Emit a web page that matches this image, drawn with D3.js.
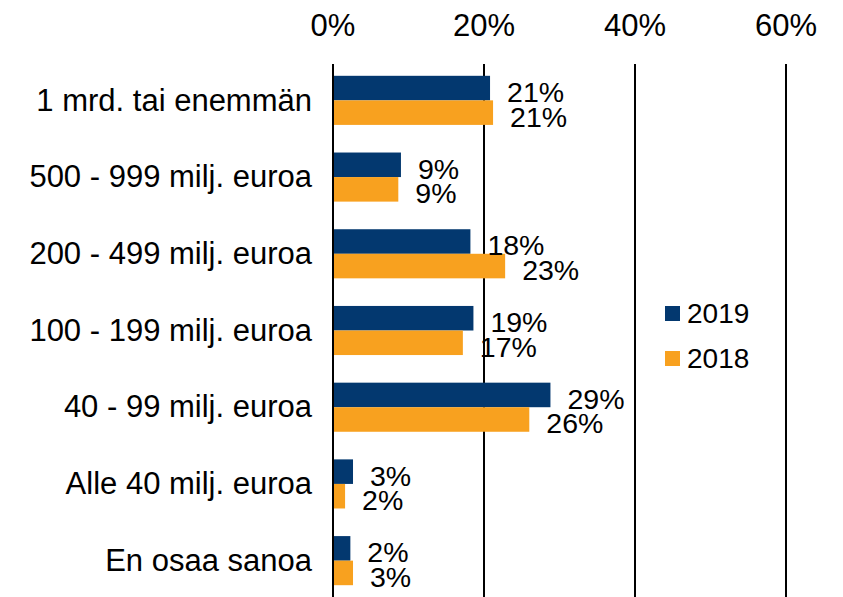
<!DOCTYPE html>
<html>
<head>
<meta charset="utf-8">
<script src="https://cdn.jsdelivr.net/npm/d3@7"></script>
<style>
  body { margin: 0; background: #fff; }
  text { font-family: "Liberation Sans", Arial, sans-serif; fill: #000; }
</style>
</head>
<body>
<div id="chart"></div>
<script>
var categories = ["1 mrd. tai enemmän", "500 - 999 milj. euroa", "200 - 499 milj. euroa",
                  "100 - 199 milj. euroa", "40 - 99 milj. euroa", "Alle 40 milj. euroa", "En osaa sanoa"];
var seriesNames = ["2019", "2018"];
var values2019 = [20.8, 9.0, 18.2, 18.6, 28.8, 2.65, 2.3];
var values2018 = [21.2, 8.65, 22.8, 17.2, 26.0, 1.6, 2.65];
var tickValues = [0, 20, 40, 60];
var colors = ["#03386F", "#F8A11F"];

var width = 843, height = 597;
var margin = {top: 62, right: 57, bottom: -2, left: 333};

var svg = d3.select("#chart")
  .append("svg")
    .attr("width", width)
    .attr("height", height);

var x = d3.scaleLinear()
  .domain([0, 60])
  .range([margin.left, width - margin.right]);

var y = d3.scaleBand()
  .domain(categories)
  .range([margin.top, height - margin.bottom])
  .paddingInner(0.36)
  .paddingOuter(0.18);

var ySub = d3.scaleBand()
  .domain(seriesNames)
  .range([0, y.bandwidth()]);

// gridlines (incl. zero line)
svg.append("g")
  .selectAll("line")
  .data(tickValues)
  .enter()
  .append("line")
    .attr("x1", function(d) { return x(d); })
    .attr("x2", function(d) { return x(d); })
    .attr("y1", margin.top + 2)
    .attr("y2", height)
    .attr("stroke", "#000")
    .attr("stroke-width", 2);

// top axis labels
svg.append("g")
  .selectAll("text")
  .data(tickValues)
  .enter()
  .append("text")
    .attr("x", function(d) { return x(d); })
    .attr("y", 36)
    .attr("text-anchor", "middle")
    .style("font-size", "31px")
    .text(function(d) { return d + "%"; });

// category labels
svg.append("g")
  .selectAll("text")
  .data(categories)
  .enter()
  .append("text")
    .attr("x", margin.left - 21)
    .attr("y", function(d) { return y(d) + y.bandwidth() / 2; })
    .attr("dy", "0.33em")
    .attr("text-anchor", "end")
    .style("font-size", "31px")
    .text(function(d) { return d; });

var rows = categories.map(function(c, i) {
  return [
    {cat: c, series: "2019", value: values2019[i], color: colors[0]},
    {cat: c, series: "2018", value: values2018[i], color: colors[1]}
  ];
});
var flat = [].concat.apply([], rows);

svg.append("g")
  .selectAll("rect")
  .data(flat)
  .enter()
  .append("rect")
    .attr("x", x(0) + 1)
    .attr("y", function(d) { return y(d.cat) + ySub(d.series); })
    .attr("width", function(d) { return x(d.value) - x(0) - 1; })
    .attr("height", ySub.bandwidth())
    .attr("fill", function(d) { return d.color; });

svg.append("g")
  .selectAll("text")
  .data(flat)
  .enter()
  .append("text")
    .attr("x", function(d) { return x(d.value) + 17; })
    .attr("y", function(d) { return y(d.cat) + ySub(d.series) + ySub.bandwidth() / 2 + 4; })
    .attr("dy", "0.35em")
    .style("font-size", "28.5px")
    .text(function(d) { return Math.round(d.value) + "%"; });

// legend
var legend = svg.append("g")
  .selectAll("g")
  .data(seriesNames)
  .enter()
  .append("g")
    .attr("transform", function(d, i) { return "translate(665," + (306 + i * 45) + ")"; });

legend.append("rect")
  .attr("width", 15)
  .attr("height", 15)
  .attr("fill", function(d, i) { return colors[i]; });

legend.append("text")
  .attr("x", 22)
  .attr("y", 7.5)
  .attr("dy", "0.35em")
  .style("font-size", "28px")
  .text(function(d) { return d; });
</script>
</body>
</html>
